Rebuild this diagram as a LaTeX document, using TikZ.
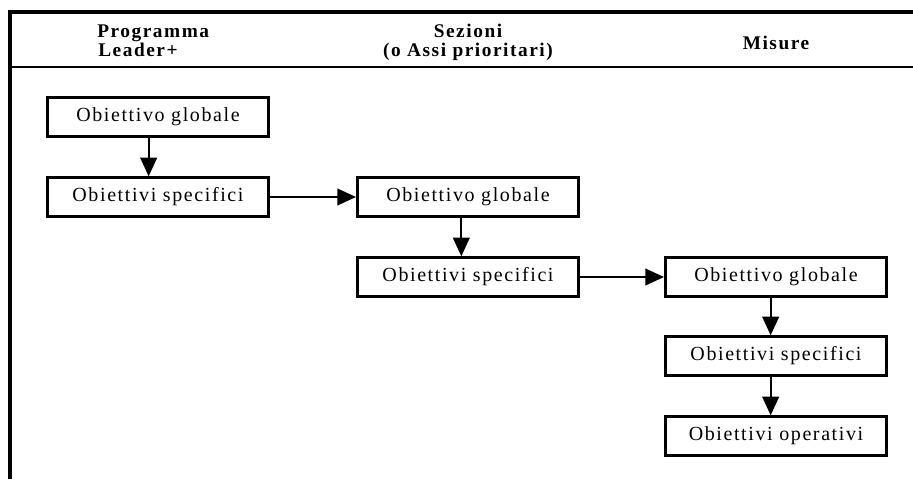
\documentclass[tikz,border=0pt]{standalone}
\usepackage{fontspec}
\setmainfont{Liberation Serif}
\newfontfamily\boxfont[LetterSpace=8]{Liberation Serif}
\newfontfamily\hdrfont[LetterSpace=8]{Liberation Serif}
\usetikzlibrary{arrows.meta}
\begin{document}
\begin{tikzpicture}[x=0.75pt, y=-0.75pt,
    obj/.style={draw, line width=2pt, minimum width=166pt, minimum height=29pt,
        inner sep=0pt, font=\boxfont\fontsize{15}{17}\selectfont},
    hdr/.style={anchor=base, inner sep=0pt, font=\hdrfont\bfseries\fontsize{14.5}{15}\selectfont},
    link/.style={line width=1.4pt, -{Triangle[length=14pt,width=12.5pt]}}]
        \useasboundingbox (0,0) rectangle (913,479);

        % Frame and header rules
        \draw[line width=2.4pt] (913,12) -- (10,12) -- (10,479);
        \draw[line width=1.8pt] (10,67) -- (913,67);

        % Column headings
        \node[hdr, anchor=base west] (hprog) at (97,37) {Programma};
        \node[hdr, anchor=base west] (hlead) at (98,56) {Leader+};
        \node[hdr] (hsez) at (468,37) {Sezioni};
        \node[hdr] (hassi) at (468,56) {(o Assi prioritari)};
        \node[hdr] (hmis) at (776,49) {Misure};

        % Programma Leader+
        \node[obj] (pglob) at (158,117) {Obiettivo globale};
        \node[obj] (pspec) at (158,197) {Obiettivi specifici};

        % Sezioni
        \node[obj] (sglob) at (468,197) {Obiettivo globale};
        \node[obj] (sspec) at (468,277) {Obiettivi specifici};

        % Misure
        \node[obj] (mglob) at (776,277) {Obiettivo globale};
        \node[obj] (mspec) at (776,356) {Obiettivi specifici};
        \node[obj] (mop) at (776,436) {Obiettivi operativi};

        % Links
        \draw[link] ([xshift=-7pt]pglob.south) -- ([xshift=-7pt]pspec.north);
        \draw[link] (pspec.east) -- (sglob.west);
        \draw[link] ([xshift=-5pt]sglob.south) -- ([xshift=-5pt]sspec.north);
        \draw[link] (sspec.east) -- (mglob.west);
        \draw[link] ([xshift=-4pt]mglob.south) -- ([xshift=-4pt]mspec.north);
        \draw[link] ([xshift=-4pt]mspec.south) -- ([xshift=-4pt]mop.north);
\end{tikzpicture}
\end{document}
